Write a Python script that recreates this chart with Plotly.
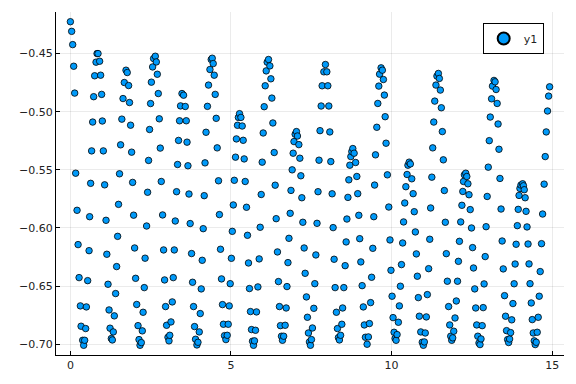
import plotly.graph_objects as go

x = [
    0.000, 0.040, 0.072, 0.103, 0.134, 0.165, 0.208, 0.240, 0.271, 0.311, 0.333, 0.383, 0.414,
    0.445, 0.476, 0.498, 0.538, 0.582, 0.600, 0.631, 0.662, 0.694, 0.725, 0.756, 0.799, 0.830,
    0.861, 0.911, 0.942, 0.973, 0.995, 1.026, 1.067, 1.110, 1.135, 1.172, 1.204, 1.235, 1.275, 1.306,
    1.337, 1.368, 1.409, 1.440, 1.471, 1.499, 1.530, 1.564, 1.602, 1.639, 1.679, 1.732,
    1.770, 1.813, 1.841, 1.875, 1.907, 1.938, 1.969, 2.000, 2.031, 2.065, 2.106, 2.137, 2.168,
    2.208, 2.239, 2.264, 2.301, 2.326, 2.373, 2.404, 2.435, 2.466, 2.497, 2.522, 2.560, 2.591, 2.644,
    2.675, 2.706, 2.737, 2.768, 2.799, 2.830, 2.871, 2.902, 2.933, 2.964, 2.995, 3.039, 3.070,
    3.094, 3.132, 3.172, 3.203, 3.235, 3.266, 3.306, 3.337, 3.368, 3.399, 3.430, 3.474,
    3.524, 3.577, 3.608, 3.632, 3.660, 3.692, 3.729, 3.773, 3.804, 3.835, 3.866, 3.897, 3.940,
    3.972, 4.012, 4.043, 4.074, 4.105, 4.136, 4.167, 4.192, 4.223, 4.267, 4.301, 4.345, 4.385,
    4.416, 4.447, 4.478, 4.509, 4.540, 4.571, 4.612, 4.640, 4.674, 4.705, 4.736, 4.765, 4.799, 4.842,
    4.883, 4.914, 4.945, 4.976, 5.013, 5.041, 5.072, 5.104, 5.141, 5.169, 5.203, 5.231, 5.266,
    5.309, 5.349, 5.380, 5.411, 5.443, 5.483, 5.514, 5.545, 5.576, 5.607, 5.639, 5.670, 5.701,
    5.732, 5.763, 5.794, 5.838, 5.878, 5.909, 5.941, 5.972, 6.003, 6.034, 6.065, 6.096, 6.127, 6.168,
    6.211, 6.242, 6.273, 6.304, 6.345, 6.376, 6.407, 6.447, 6.478, 6.509, 6.540, 6.572, 6.603,
    6.640, 6.687, 6.718, 6.743, 6.774, 6.805, 6.843, 6.868, 6.905, 6.936, 6.961, 6.998, 7.038,
    7.069, 7.113, 7.144, 7.175, 7.206, 7.237, 7.278, 7.309, 7.349, 7.380, 7.411, 7.443, 7.474,
    7.505, 7.536, 7.579, 7.610, 7.642, 7.679, 7.710, 7.741, 7.772, 7.807, 7.838, 7.891, 7.940,
    7.984, 8.015, 8.046, 8.077, 8.108, 8.149, 8.180, 8.211, 8.242, 8.282, 8.314, 8.345, 8.376,
    8.413, 8.451, 8.476, 8.513, 8.554, 8.585, 8.609, 8.641, 8.669, 8.700, 8.731, 8.762, 8.793,
    8.834, 8.880, 8.918, 8.946, 8.980, 9.008, 9.042, 9.083, 9.120, 9.151, 9.185, 9.238,
    9.278, 9.310, 9.347, 9.378, 9.415, 9.446, 9.471, 9.499, 9.540, 9.571, 9.602, 9.626, 9.673,
    9.713, 9.745, 9.776, 9.800, 9.828, 9.869, 9.913, 9.950, 9.981, 10.015, 10.046, 10.078, 10.109, 10.140,
    10.171, 10.211, 10.242, 10.274, 10.308, 10.345, 10.373, 10.410, 10.444, 10.482, 10.509, 10.547,
    10.584, 10.628, 10.671, 10.706, 10.740, 10.771, 10.802, 10.833, 10.864, 10.908, 10.955, 10.989,
    11.020, 11.048, 11.082, 11.113, 11.154, 11.188, 11.216, 11.253, 11.281, 11.313, 11.344, 11.381, 11.412, 11.456,
    11.487, 11.518, 11.549, 11.580, 11.611, 11.642, 11.673, 11.704, 11.736, 11.776, 11.810, 11.841, 11.872,
    11.903, 11.935, 11.975, 12.015, 12.053, 12.081, 12.112, 12.152, 12.189, 12.217, 12.239, 12.267, 12.308,
    12.342, 12.376, 12.410, 12.448, 12.488, 12.522, 12.550, 12.588, 12.619, 12.650, 12.684, 12.721, 12.753,
    12.784, 12.821, 12.852, 12.880, 12.914, 12.942, 12.976, 13.010, 13.041, 13.072, 13.113, 13.141, 13.188,
    13.222, 13.253, 13.287, 13.315, 13.343, 13.374, 13.408, 13.442, 13.476, 13.517, 13.548, 13.579, 13.613, 13.644,
    13.675, 13.706, 13.740, 13.778, 13.815, 13.846, 13.877, 13.915, 13.943, 13.968, 13.996, 14.027, 14.080,
    14.105, 14.130, 14.158, 14.186, 14.217, 14.248, 14.279, 14.310, 14.348, 14.379, 14.410, 14.441, 14.472,
    14.503, 14.534, 14.565, 14.596, 14.627, 14.668, 14.702, 14.749, 14.783, 14.814, 14.855, 14.889, 14.920,
]

y = [
    -0.4226, -0.4309, -0.4423, -0.4609, -0.4840, -0.5529, -0.5848, -0.6143, -0.6427, -0.6670, -0.6845, -0.6966, -0.7009,
    -0.6966, -0.6865, -0.6679, -0.6453, -0.6195, -0.5903, -0.5616, -0.5337, -0.5089, -0.4871, -0.4691, -0.4574, -0.4500,
    -0.4500, -0.4566, -0.4686, -0.4851, -0.5080, -0.5337, -0.5629, -0.5934, -0.6226, -0.6484, -0.6705, -0.6862, -0.6951, -0.6963,
    -0.6894, -0.6756, -0.6564, -0.6332, -0.6072, -0.5797, -0.5534, -0.5285, -0.5064, -0.4887, -0.4749, -0.4643,
    -0.4663, -0.4775, -0.4921, -0.5116, -0.5348, -0.5608, -0.5890, -0.6172, -0.6433, -0.6658, -0.6840, -0.6960, -0.7009,
    -0.6986, -0.6885, -0.6725, -0.6513, -0.6260, -0.5983, -0.5693, -0.5419, -0.5153, -0.4930, -0.4746, -0.4615, -0.4543, -0.4523,
    -0.4572, -0.4678, -0.4844, -0.5061, -0.5313, -0.5600, -0.5888, -0.6189, -0.6447, -0.6676, -0.6837, -0.6940, -0.6971,
    -0.6923, -0.6808, -0.6636, -0.6427, -0.6189, -0.5940, -0.5688, -0.5454, -0.5247, -0.5078, -0.4950, -0.4844,
    -0.4858, -0.4955, -0.5078, -0.5262, -0.5465, -0.5708, -0.5962, -0.6220, -0.6467, -0.6676, -0.6848, -0.6957, -0.7006,
    -0.6983, -0.6894, -0.6736, -0.6524, -0.6278, -0.6006, -0.5722, -0.5440, -0.5177, -0.4954, -0.4771, -0.4637, -0.4551,
    -0.4540, -0.4586, -0.4686, -0.4851, -0.5057, -0.5311, -0.5594, -0.5885, -0.6183, -0.6438, -0.6659, -0.6828, -0.6926, -0.6960,
    -0.6923, -0.6828, -0.6670, -0.6479, -0.6261, -0.6029, -0.5802, -0.5590, -0.5391, -0.5234, -0.5117, -0.5049, -0.5017,
    -0.5049, -0.5123, -0.5246, -0.5406, -0.5600, -0.5822, -0.6063, -0.6301, -0.6521, -0.6719, -0.6874, -0.6974, -0.7009,
    -0.6971, -0.6880, -0.6722, -0.6507, -0.6266, -0.5994, -0.5712, -0.5434, -0.5183, -0.4957, -0.4777, -0.4649, -0.4574, -0.4551,
    -0.4606, -0.4717, -0.4883, -0.5097, -0.5351, -0.5632, -0.5920, -0.6206, -0.6461, -0.6676, -0.6840, -0.6931, -0.6966,
    -0.6931, -0.6837, -0.6688, -0.6504, -0.6298, -0.6089, -0.5874, -0.5677, -0.5500, -0.5357, -0.5257, -0.5194, -0.5171,
    -0.5209, -0.5283, -0.5400, -0.5551, -0.5740, -0.5951, -0.6172, -0.6390, -0.6593, -0.6768, -0.6903, -0.6980, -0.7009,
    -0.6960, -0.6860, -0.6691, -0.6479, -0.6232, -0.5960, -0.5688, -0.5417, -0.5163, -0.4951, -0.4777, -0.4657, -0.4594,
    -0.4657, -0.4777, -0.4951, -0.5174, -0.5429, -0.5706, -0.5997, -0.6269, -0.6513, -0.6725, -0.6865, -0.6943, -0.6963,
    -0.6923, -0.6828, -0.6688, -0.6513, -0.6324, -0.6120, -0.5923, -0.5737, -0.5586, -0.5460, -0.5386, -0.5343, -0.5317,
    -0.5357, -0.5437, -0.5557, -0.5705, -0.5891, -0.6092, -0.6292, -0.6496, -0.6679, -0.6834, -0.6940, -0.7000,
    -0.6937, -0.6822, -0.6642, -0.6424, -0.6175, -0.5903, -0.5631, -0.5371, -0.5134, -0.4929, -0.4780, -0.4677, -0.4623,
    -0.4643, -0.4723, -0.4857, -0.5043, -0.5271, -0.5543, -0.5820, -0.6103, -0.6364, -0.6587, -0.6771, -0.6897, -0.6950, -0.6966,
    -0.6917, -0.6811, -0.6670, -0.6501, -0.6315, -0.6129, -0.5948, -0.5785, -0.5645, -0.5540, -0.5460, -0.5434,
    -0.5449, -0.5577, -0.5705, -0.5860, -0.6034, -0.6223, -0.6415, -0.6599, -0.6759, -0.6894, -0.6983, -0.7009,
    -0.6980, -0.6903, -0.6765, -0.6573, -0.6350, -0.6097, -0.5828, -0.5563, -0.5311, -0.5089, -0.4909, -0.4771, -0.4694, -0.4671,
    -0.4714, -0.4814, -0.4966, -0.5171, -0.5414, -0.5678, -0.5951, -0.6221, -0.6458, -0.6676, -0.6834, -0.6931, -0.6966,
    -0.6945, -0.6888, -0.6774, -0.6628, -0.6458, -0.6287, -0.6115, -0.5948, -0.5805, -0.5686, -0.5600, -0.5543, -0.5529,
    -0.5557, -0.5620, -0.5714, -0.5842, -0.6000, -0.6169, -0.6344, -0.6524, -0.6688, -0.6834, -0.6931, -0.6989, -0.7003,
    -0.6954, -0.6840, -0.6685, -0.6481, -0.6246, -0.5989, -0.5729, -0.5477, -0.5249, -0.5046, -0.4889, -0.4780, -0.4731,
    -0.4743, -0.4809, -0.4929, -0.5106, -0.5323, -0.5574, -0.5837, -0.6112, -0.6352, -0.6582, -0.6759, -0.6883, -0.6960, -0.6985,
    -0.6955, -0.6900, -0.6790, -0.6650, -0.6480, -0.6310, -0.6140, -0.5980, -0.5840, -0.5720, -0.5660, -0.5631, -0.5620,
    -0.5637, -0.5671, -0.5740, -0.5857, -0.5991, -0.6138, -0.6309, -0.6479, -0.6645, -0.6788, -0.6903, -0.6971, -0.7003,
    -0.6983, -0.6897, -0.6768, -0.6587, -0.6375, -0.6135, -0.5880, -0.5623, -0.5386, -0.5174, -0.4994, -0.4866, -0.4786,
]

series_name = "y1"
xtick_vals = [0, 5, 10, 15]
xtick_text = ["0", "5", "10", "15"]
ytick_vals = [-0.70, -0.65, -0.60, -0.55, -0.50, -0.45]
ytick_text = ["\u22120.70", "\u22120.65", "\u22120.60", "\u22120.55", "\u22120.50", "\u22120.45"]

fig = go.Figure(
    go.Scatter(
        x=x, y=y, mode="markers", name=series_name,
        marker=dict(color="#009AFA", size=6.5, line=dict(color="black", width=0.8)),
    )
)

axis_common = dict(
    showline=True, linecolor="black", linewidth=1, mirror=False,
    showgrid=True, gridcolor="rgba(0,0,0,0.08)", gridwidth=1,
    zeroline=False, ticks="inside", ticklen=4, tickcolor="black", tickwidth=1,
    automargin=False,
    tickfont=dict(family="DejaVu Sans", size=11, color="#222222"),
)

fig.update_layout(
    width=576, height=384, autosize=False,
    margin=dict(l=56, r=12, t=12, b=29, pad=0),
    paper_bgcolor="white", plot_bgcolor="white",
    showlegend=True,
    legend=dict(
        x=0.96, y=0.968, xanchor="right", yanchor="top",
        bgcolor="white", bordercolor="black", borderwidth=1,
        itemsizing="constant", itemwidth=30,
        font=dict(family="DejaVu Sans", size=11, color="#222222"),
    ),
    xaxis=dict(range=[-0.4476, 15.3676], tickvals=xtick_vals, ticktext=xtick_text, **axis_common),
    yaxis=dict(range=[-0.70925, -0.41425], tickvals=ytick_vals, ticktext=ytick_text, **axis_common),
)

fig.write_html(
    "out.html",
    config={"displayModeBar": False},
    post_script="document.body.style.margin='0';",
)
